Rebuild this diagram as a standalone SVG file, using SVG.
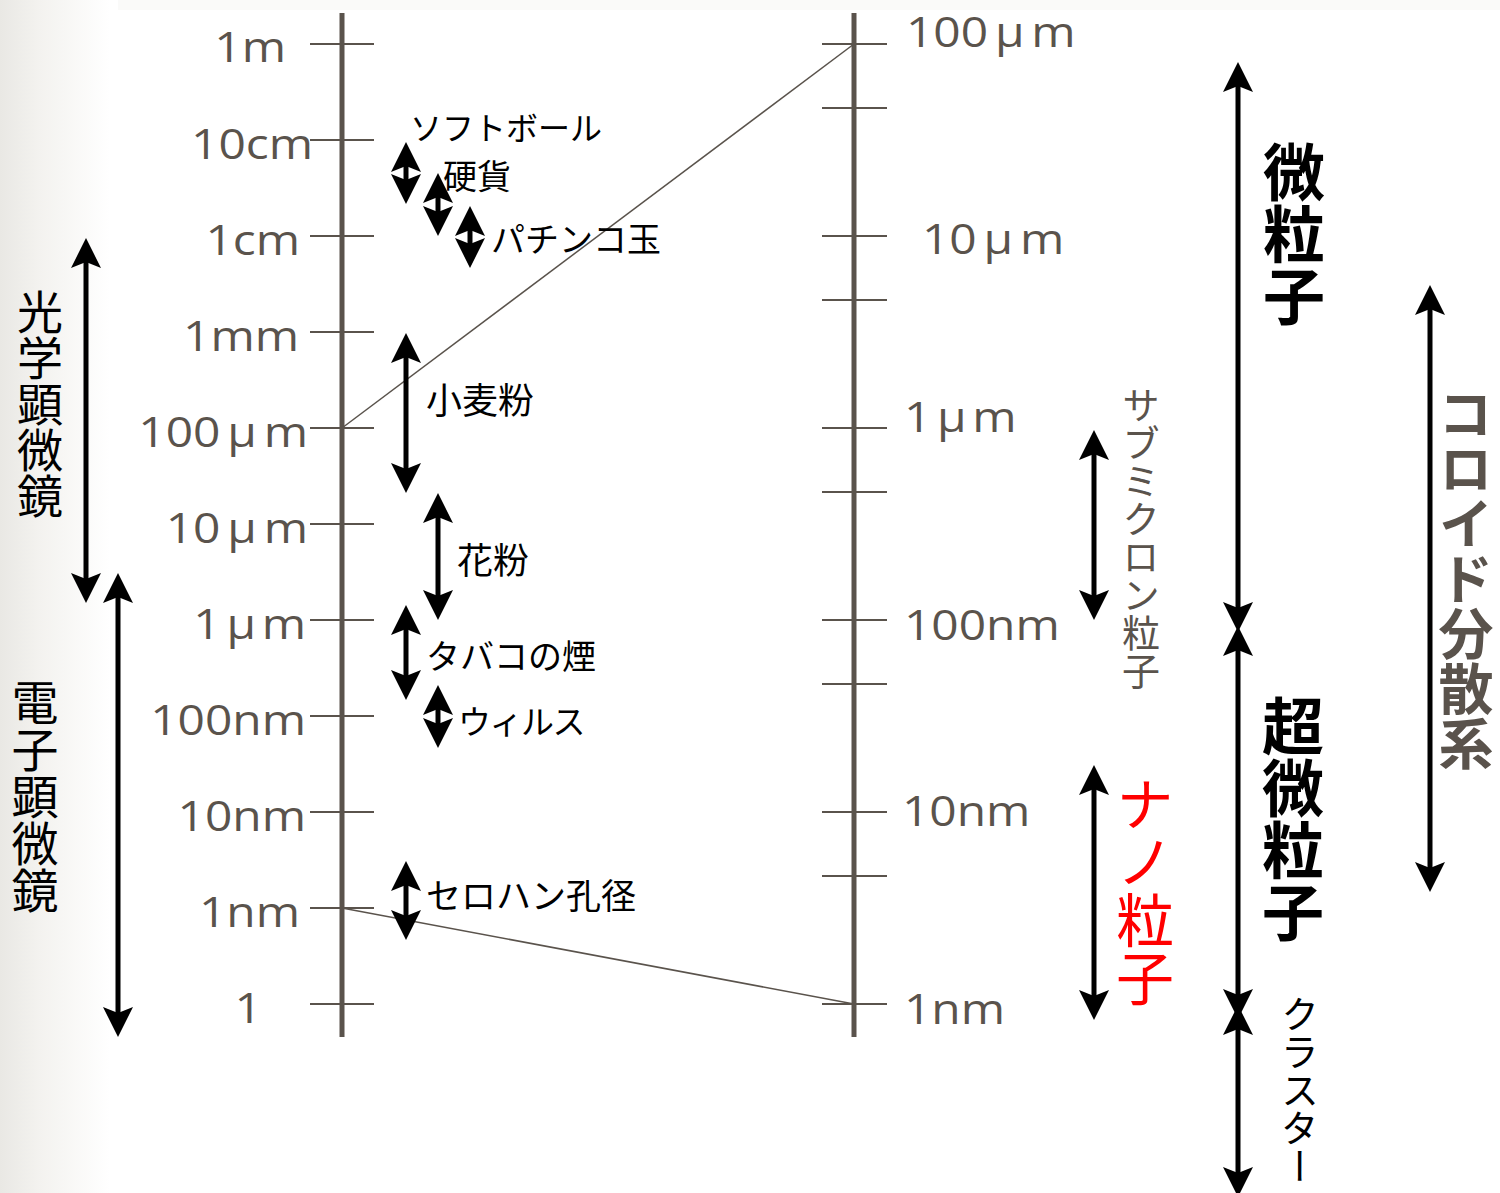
<svg xmlns="http://www.w3.org/2000/svg" width="1500" height="1193" viewBox="0 0 1500 1193">
<defs>
<linearGradient id="bgl" x1="0" y1="0" x2="1" y2="0">
<stop offset="0" stop-color="#e9e8e4"/>
<stop offset="0.35" stop-color="#f3f2ef"/>
<stop offset="1" stop-color="#ffffff"/>
</linearGradient>
<marker id="ah" markerUnits="userSpaceOnUse" orient="auto-start-reverse" refX="0" refY="0" markerWidth="40" markerHeight="40" viewBox="-10 -20 40 40" overflow="visible">
<path d="M24,0 L-6,-15 L0,0 L-6,15 Z" fill="#000"/>
</marker>
<style>
.ax{stroke:#5a534c;stroke-width:5;fill:none}
.tk{stroke:#5a534c;stroke-width:2;fill:none}
.cn{stroke:#5a534c;stroke-width:1.5;fill:none}
.sc{font-family:"Open Sans","Noto Sans",sans-serif;font-size:42px;fill:#5a534c}
.scl{text-anchor:end}
.jp{font-family:"Noto Sans CJK JP","Noto Sans",sans-serif;fill:#000}
.vt{writing-mode:vertical-rl}
.ar{stroke:#000;stroke-width:5;fill:none;marker-start:url(#ah);marker-end:url(#ah)}
</style>
</defs>
<rect x="0" y="0" width="1500" height="1193" fill="#ffffff"/>
<rect x="0" y="0" width="110" height="1193" fill="url(#bgl)"/>
<rect x="118" y="0" width="1382" height="10" fill="#fafaf9"/>

<g id="scale-left">
<line class="ax" x1="342" y1="13" x2="342" y2="1037"/>
<path class="tk" d="M310,44H374M310,140H374M310,236H374M310,332H374M310,428H374M310,524H374M310,620H374M310,716H374M310,812H374M310,908H374M310,1004H374"/>
<text class="sc scl" transform="translate(286,62) scale(1.14,1)">1m</text>
<text class="sc scl" transform="translate(313,159) scale(1.14,1)">10cm</text>
<text class="sc scl" transform="translate(300,255) scale(1.14,1)">1cm</text>
<text class="sc scl" transform="translate(299,351) scale(1.14,1)">1mm</text>
<text class="sc scl" transform="translate(308,447) scale(1.14,1)">100<tspan dx="6">μ</tspan><tspan dx="6">m</tspan></text>
<text class="sc scl" transform="translate(308,543) scale(1.14,1)">10<tspan dx="6">μ</tspan><tspan dx="6">m</tspan></text>
<text class="sc scl" transform="translate(306,639) scale(1.14,1)">1<tspan dx="5">μ</tspan><tspan dx="5">m</tspan></text>
<text class="sc scl" transform="translate(306,735) scale(1.14,1)">100nm</text>
<text class="sc scl" transform="translate(306,831) scale(1.14,1)">10nm</text>
<text class="sc scl" transform="translate(300,927) scale(1.14,1)">1nm</text>
<text class="sc scl" transform="translate(262,1023) scale(1.14,1)">1</text>
</g>

<g id="scale-right">
<line class="ax" x1="854" y1="13" x2="854" y2="1037"/>
<path class="tk" d="M822,44H887M822,108H887M822,236H887M822,300H887M822,428H887M822,492H887M822,620H887M822,684H887M822,812H887M822,876H887M822,1004H887"/>
<text class="sc" transform="translate(906,47) scale(1.14,1)">100<tspan dx="6">μ</tspan><tspan dx="6">m</tspan></text>
<text class="sc" transform="translate(922,254) scale(1.14,1)">10<tspan dx="6">μ</tspan><tspan dx="6">m</tspan></text>
<text class="sc" transform="translate(904,432) scale(1.14,1)">1<tspan dx="5">μ</tspan><tspan dx="5">m</tspan></text>
<text class="sc" transform="translate(904,640) scale(1.14,1)">100nm</text>
<text class="sc" transform="translate(902,826) scale(1.14,1)">10nm</text>
<text class="sc" transform="translate(904,1024) scale(1.14,1)">1nm</text>
</g>

<g id="connectors">
<line class="cn" x1="342" y1="428" x2="854" y2="44"/>
<line class="cn" x1="342" y1="908" x2="854" y2="1004"/>
</g>

<g id="optical-microscope">
<line class="ar" x1="86" y1="262" x2="86" y2="579"/>
<text class="jp vt" x="40" y="289" font-size="46">光学顕微鏡</text>
</g>
<g id="electron-microscope">
<line class="ar" x1="118" y1="597" x2="118" y2="1013"/>
<text class="jp vt" x="35" y="679" font-size="47">電子顕微鏡</text>
</g>

<g id="softball">
<line class="ar" x1="406" y1="166" x2="406" y2="180"/>
<text class="jp" x="410" y="140" font-size="32">ソフトボール</text>
</g>
<g id="coin">
<line class="ar" x1="438" y1="197" x2="438" y2="212"/>
<text class="jp" x="443" y="189" font-size="34">硬貨</text>
</g>
<g id="pachinko">
<line class="ar" x1="470" y1="230" x2="470" y2="244"/>
<text class="jp" x="491" y="252" font-size="34">パチンコ玉</text>
</g>
<g id="flour">
<line class="ar" x1="406" y1="357" x2="406" y2="469"/>
<text class="jp" x="426" y="414" font-size="36">小麦粉</text>
</g>
<g id="pollen">
<line class="ar" x1="438" y1="517" x2="438" y2="596"/>
<text class="jp" x="457" y="574" font-size="36">花粉</text>
</g>
<g id="tobacco">
<line class="ar" x1="406" y1="629" x2="406" y2="676"/>
<text class="jp" x="426" y="669" font-size="34">タバコの煙</text>
</g>
<g id="virus">
<line class="ar" x1="438" y1="709" x2="438" y2="724"/>
<text class="jp" x="458" y="734" font-size="33" letter-spacing="-1.5">ウィルス</text>
</g>
<g id="cellophane">
<line class="ar" x1="406" y1="885" x2="406" y2="916"/>
<text class="jp" x="426" y="909" font-size="35">セロハン孔径</text>
</g>

<g id="submicron">
<line class="ar" x1="1094" y1="454" x2="1094" y2="596"/>
<text class="jp vt" x="1141" y="386" font-size="38" style="fill:#5a534c">サブミクロン粒子</text>
</g>
<g id="nano">
<line class="ar" x1="1094" y1="789" x2="1094" y2="996"/>
<text class="jp vt" x="1145" y="775" font-size="58" style="fill:#ff0000">ナノ粒子</text>
</g>
<g id="fine-particle">
<line class="ar" x1="1238" y1="86" x2="1238" y2="608"/>
<text class="jp vt" x="1294" y="141" font-size="62" font-weight="bold">微粒子</text>
</g>
<g id="ultrafine-particle">
<line class="ar" x1="1238" y1="650" x2="1238" y2="995"/>
<text class="jp vt" x="1293" y="695" font-size="62" font-weight="bold">超微粒子</text>
</g>
<g id="cluster">
<line class="ar" x1="1238" y1="1029" x2="1238" y2="1173"/>
<text class="jp vt" x="1300" y="995" font-size="38">クラスター</text>
</g>
<g id="colloid">
<line class="ar" x1="1430" y1="309" x2="1430" y2="868"/>
<text class="jp vt" x="1466" y="386" font-size="55" font-weight="bold" style="fill:#5a534c">コロイド分散系</text>
</g>
</svg>
